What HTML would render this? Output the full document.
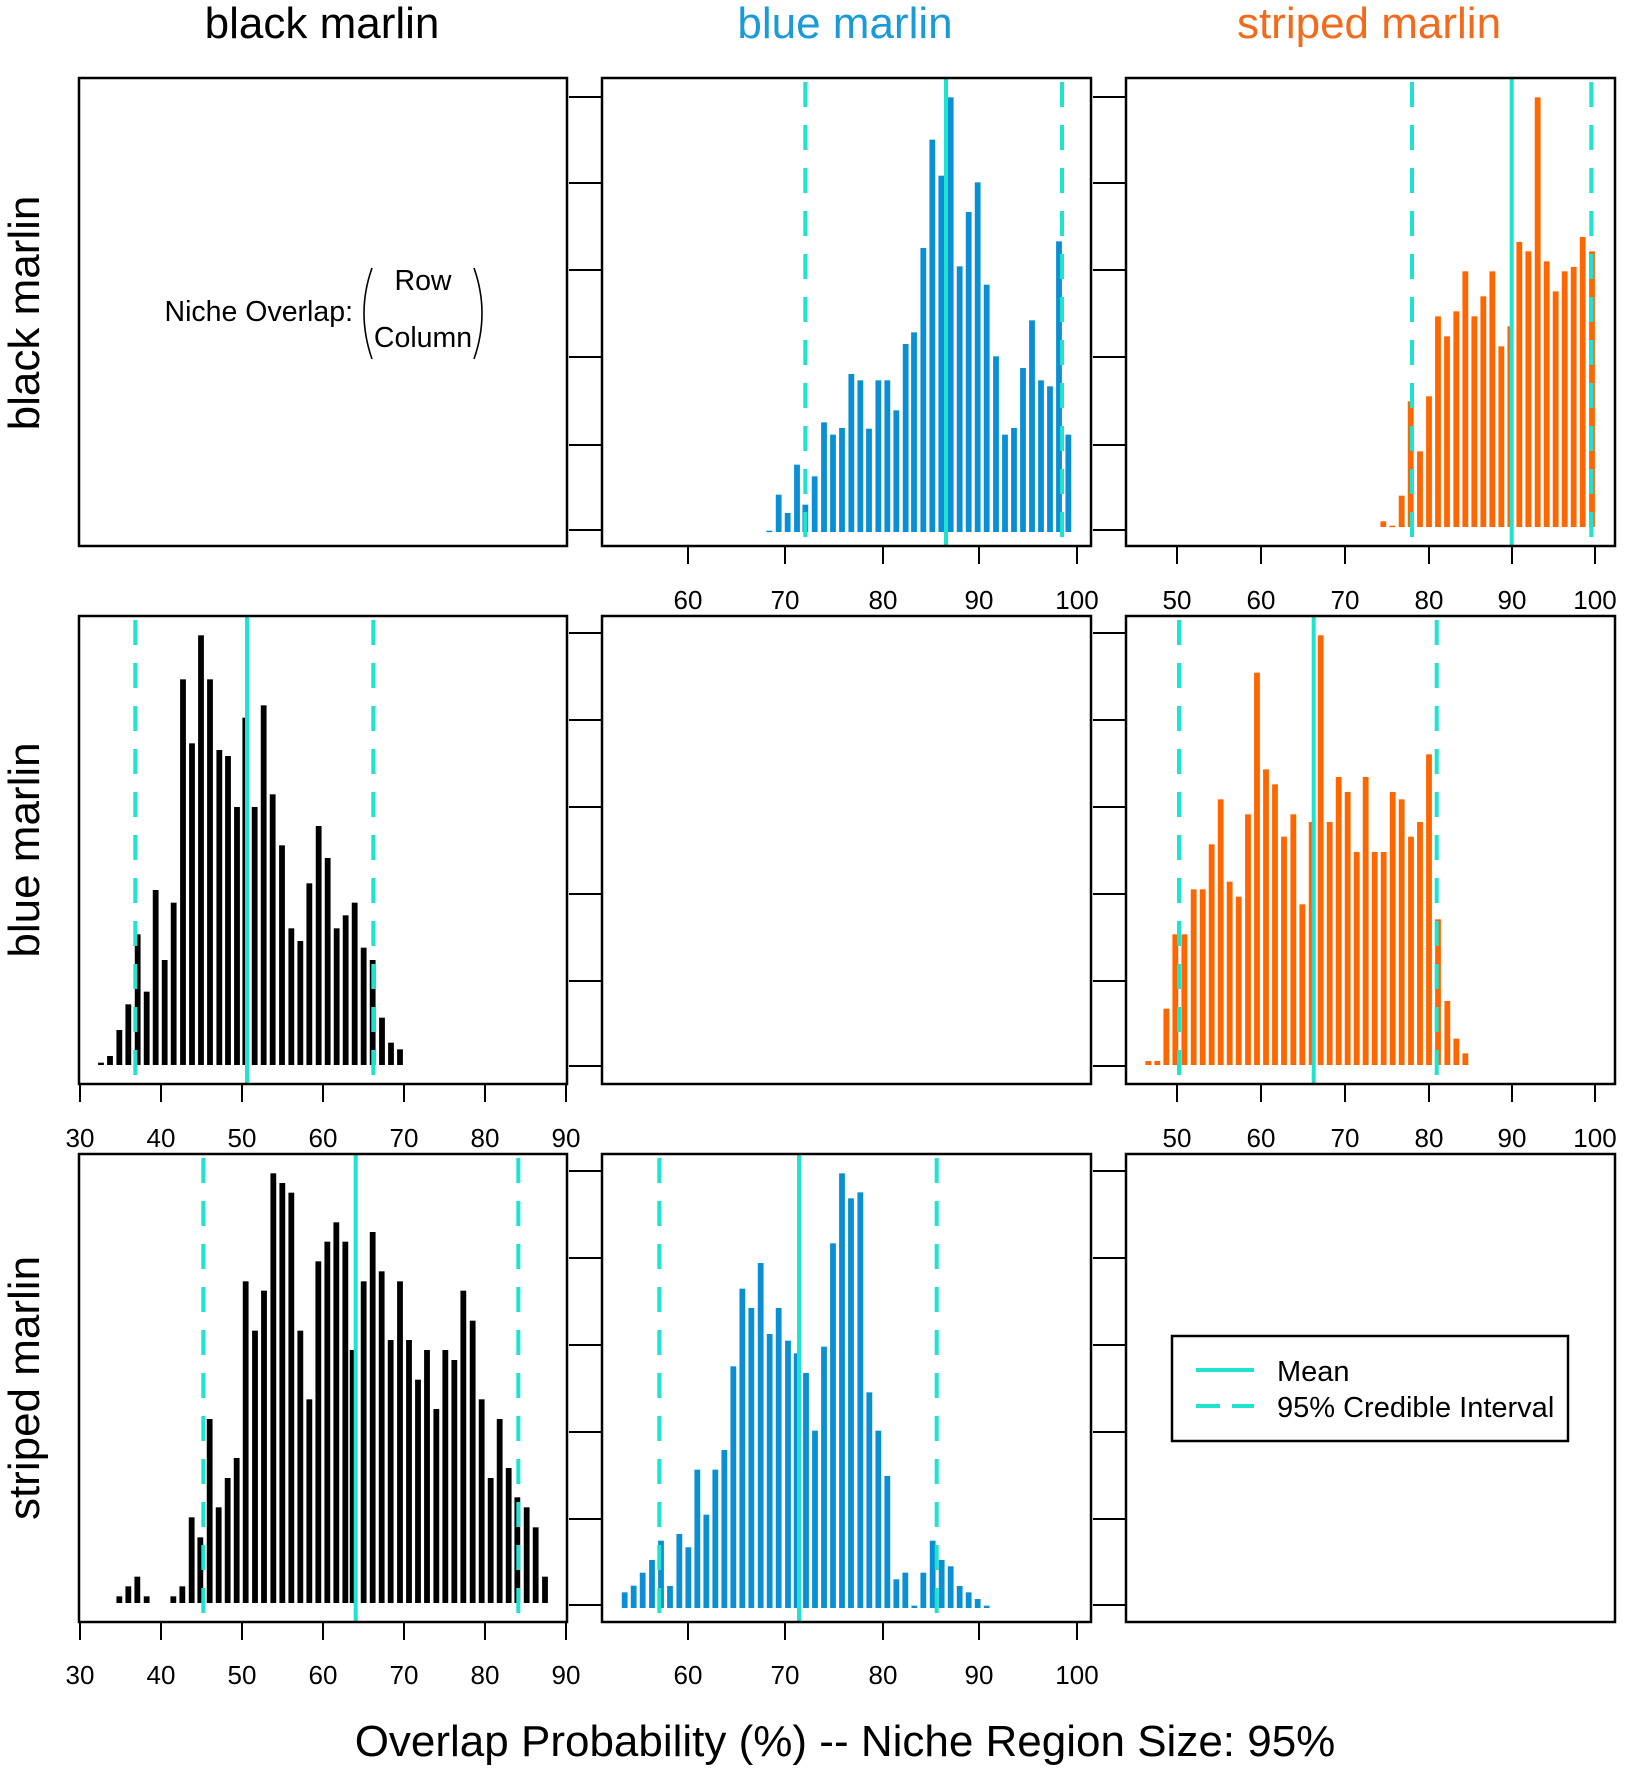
<!DOCTYPE html>
<html><head><meta charset="utf-8"><style>
html,body{margin:0;padding:0;background:#fff}
svg{display:block}
text{font-family:"Liberation Sans",sans-serif}
</style></head><body>
<svg id="s" width="1627" height="1772" viewBox="0 0 1627 1772" xmlns="http://www.w3.org/2000/svg">
<rect width="1627" height="1772" fill="#fff"/>
<g id="bars"></g>
<g id="lines"></g>
<g fill="none" stroke="#000" stroke-width="2.5">
<rect x="79" y="78" width="488" height="468"/>
<rect x="602" y="78" width="489" height="468"/>
<rect x="1126" y="78" width="489" height="468"/>
<rect x="79" y="616" width="488" height="468"/>
<rect x="602" y="616" width="489" height="468"/>
<rect x="1126" y="616" width="489" height="468"/>
<rect x="79" y="1154" width="488" height="468"/>
<rect x="602" y="1154" width="489" height="468"/>
<rect x="1126" y="1154" width="489" height="468"/>
</g>
<g id="axes" stroke="#000" stroke-width="2" fill="none"></g>
<g font-size="26" text-anchor="middle" fill="#000">
<text x="688" y="609">60</text><text x="785" y="609">70</text><text x="883" y="609">80</text><text x="979" y="609">90</text><text x="1077" y="609">100</text>
<text x="1177" y="609">50</text><text x="1261" y="609">60</text><text x="1345" y="609">70</text><text x="1429" y="609">80</text><text x="1512" y="609">90</text><text x="1595" y="609">100</text>
<text x="80" y="1147">30</text><text x="161" y="1147">40</text><text x="242" y="1147">50</text><text x="323" y="1147">60</text><text x="404" y="1147">70</text><text x="485" y="1147">80</text><text x="566" y="1147">90</text>
<text x="1177" y="1147">50</text><text x="1261" y="1147">60</text><text x="1345" y="1147">70</text><text x="1429" y="1147">80</text><text x="1512" y="1147">90</text><text x="1595" y="1147">100</text>
<text x="80" y="1684">30</text><text x="161" y="1684">40</text><text x="242" y="1684">50</text><text x="323" y="1684">60</text><text x="404" y="1684">70</text><text x="485" y="1684">80</text><text x="566" y="1684">90</text>
<text x="688" y="1684">60</text><text x="785" y="1684">70</text><text x="883" y="1684">80</text><text x="979" y="1684">90</text><text x="1077" y="1684">100</text>
</g>
<g font-size="44" text-anchor="middle">
<text x="322" y="38" fill="#000">black marlin</text>
<text x="845" y="38" fill="#1a9ad6">blue marlin</text>
<text x="1369" y="38" fill="#f26b1d">striped marlin</text>
<text transform="translate(39,313) rotate(-90)">black marlin</text>
<text transform="translate(39,850) rotate(-90)">blue marlin</text>
<text transform="translate(39,1388) rotate(-90)">striped marlin</text>
<text x="845" y="1756">Overlap Probability (%) -- Niche Region Size: 95%</text>
</g>
<g font-size="28.5">
<text x="353" y="321" text-anchor="end">Niche Overlap:</text>
<text x="423" y="290" text-anchor="middle">Row</text>
<text x="423" y="347" text-anchor="middle">Column</text>
<path d="M372 268 Q356 313 372 359" fill="none" stroke="#000" stroke-width="1.6"/>
<path d="M474 268 Q490 313 474 359" fill="none" stroke="#000" stroke-width="1.6"/>
</g>
<g>
<rect x="1172" y="1336" width="396" height="105" fill="#fff" stroke="#000" stroke-width="2.5"/>
<line x1="1196" y1="1370" x2="1254" y2="1370" stroke="#1ee3cf" stroke-width="4"/>
<line x1="1196" y1="1406" x2="1254" y2="1406" stroke="#1ee3cf" stroke-width="4" stroke-dasharray="24 12"/>
<text x="1277" y="1381" font-size="29">Mean</text>
<text x="1277" y="1417" font-size="29">95% Credible Interval</text>
</g>
</svg>
<script>
var NS="http://www.w3.org/2000/svg";
function el(p,t,a){var e=document.createElementNS(NS,t);for(var k in a)e.setAttribute(k,a[k]);p.appendChild(e);return e;}
var B=document.getElementById("bars"),L=document.getElementById("lines"),A=document.getElementById("axes");
var sets=[
{x0:740,y0:78,base:1362,col:"#0a8fd4",mean:946,d1:805.3,d2:1062,top:78,bot:546,
b:[[88,1358],[116,1250],[143,1305],[171,1160],[196,1280],[224,1195],[252,1033],[279,1070],[306,1050],[334,888],[361,907],[387,1052],[415,907],[442,907],[469,997],[497,798],[522,763],[550,510],[577,185],[604,293],[632,58],[659,565],[686,402],[713,313],[740,620],[768,835],[795,1070],[822,1050],[849,870],[876,727],[903,907],[930,925],[957,490],[985,1070]]},
{x0:1360,y0:78,base:1347,col:"#ff6600",mean:1511.7,d1:1412,d2:1591.3,top:78,bot:546,
b:[[70,1330],[97,1343],[125,1253],[152,970],[180,1120],[207,955],[234,715],[261,775],[289,700],[316,580],[343,715],[370,655],[397,580],[424,805],[451,745],[478,492],[505,520],[533,58],[560,550],[587,640],[614,580],[641,567],[668,477],[696,520]]},
{x0:90,y0:616,base:1347,col:"#000",mean:247,d1:135.3,d2:373.3,top:616,bot:1084,
b:[[33,1340],[60,1320],[88,1242],[115,1165],[143,955],[170,1127],[197,822],[224,1032],[251,860],[279,190],[306,382],[333,58],[360,190],[388,402],[414,420],[441,573],[466,305],[494,573],[521,268],[548,535],[576,688],[604,937],[631,975],[658,802],[686,630],[713,726],[740,937],[767,898],[794,860],[821,995],[848,1032],[876,1205],[903,1280],[930,1300]]},
{x0:1135,y0:616,base:1347,col:"#ff6600",mean:1313.7,d1:1179,d2:1436.7,top:616,bot:1084,
b:[[40,1335],[67,1335],[94,1178],[121,955],[148,955],[176,820],[203,820],[230,685],[257,550],[284,797],[311,842],[339,595],[366,170],[393,460],[420,505],[447,662],[475,595],[502,865],[530,618],[557,58],[584,618],[611,483],[638,528],[665,708],[692,483],[719,708],[746,708],[773,528],[800,550],[828,662],[855,618],[882,415],[909,910],[937,1155],[964,1268],[991,1312]]},
{x0:110,y0:1154,base:1347,col:"#000",mean:355.7,d1:203.3,d2:518.3,top:1154,bot:1622,
b:[[28,1327],[55,1297],[82,1268],[110,1327],[190,1327],[217,1297],[245,1090],[271,1150],[299,795],[326,1060],[353,972],[380,912],[407,382],[435,530],[462,410],[490,58],[517,87],[544,116],[571,530],[598,736],[625,322],[652,263],[679,205],[706,263],[728,588],[761,382],[788,234],[815,352],[842,558],[870,382],[897,558],[924,677],[951,588],[979,765],[1006,588],[1033,618],[1060,410],[1088,500],[1115,736],[1142,972],[1169,795],[1196,942],[1222,1030],[1250,1060],[1277,1120],[1305,1268]]},
{x0:610,y0:1154,base:1362,col:"#0a8fd4",mean:799,d1:659.3,d2:936.7,top:1154,bot:1622,
b:[[44,1315],[71,1295],[98,1256],[126,1218],[153,1160],[180,1296],[208,1140],[235,1180],[262,947],[289,1082],[316,947],[343,888],[370,637],[397,404],[424,462],[452,327],[479,540],[506,462],[534,560],[560,598],[588,657],[615,830],[642,578],[669,268],[696,58],[723,133],[751,115],[778,715],[805,830],[832,966],[859,1276],[886,1256],[913,1355],[940,1256],[968,1160],[995,1218],[1022,1237],[1049,1296],[1076,1315],[1103,1335],[1130,1355]]}
];
sets.forEach(function(s){
 var by=s.y0+s.base/3;
 s.b.forEach(function(b){var x=s.x0+b[0]/3,t=s.y0+b[1]/3;el(B,"rect",{x:x-2.9,y:t,width:5.8,height:Math.max(1.5,by-t),fill:s.col});});
 el(L,"line",{x1:s.mean,x2:s.mean,y1:s.top,y2:s.bot,stroke:"#1ee3cf","stroke-width":4});
 [s.d1,s.d2].forEach(function(d){el(L,"line",{x1:d,x2:d,y1:s.top+4,y2:s.bot,stroke:"#1ee3cf","stroke-width":4,"stroke-dasharray":"25 18"});});
});
function xax(ticks,y){el(A,"line",{x1:ticks[0],x2:ticks[ticks.length-1],y1:y,y2:y});ticks.forEach(function(t){el(A,"line",{x1:t,x2:t,y1:y,y2:y+18});});}
var c2=[688,785,883,979,1077],c3=[1177,1261,1345,1429,1512,1595],c1=[80,161,242,323,404,485,566];
xax(c2,546);xax(c3,546);xax(c1,1084);xax(c3,1084);xax(c1,1622);xax(c2,1622);
function yax(x,ys){ys.forEach(function(y){el(A,"line",{x1:x-33,x2:x,y1:y,y2:y});});}
var r1=[97,183,270,357,445,530],r2=[633,720,807,894,981,1066],r3=[1171,1258,1345,1432,1519,1605];
[602,1126].forEach(function(x){yax(x,r1);yax(x,r2);yax(x,r3);});
</script>
</body></html>
